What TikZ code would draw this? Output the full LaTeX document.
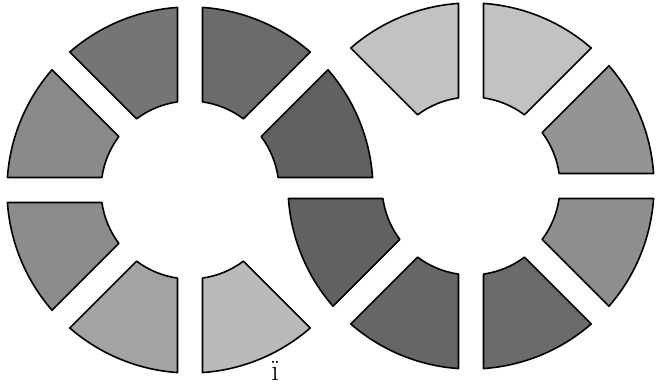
\documentclass[tikz,border=0pt]{standalone}
\usetikzlibrary{calc}
\begin{document}
\begin{tikzpicture}[seg/.style={draw=black,line width=1.6pt,line join=round}]
\useasboundingbox (0,0) rectangle (662pt,387pt);
\pgfmathsetmacro\Rout{183}
\pgfmathsetmacro\Rin{89}
\pgfmathsetmacro\ao{asin(12.5/\Rout)}
\pgfmathsetmacro\ai{asin(12.5/\Rin)}
\newcommand\ringseg[4]{%
  \pgfmathsetmacro\sa{#3+\ao}\pgfmathsetmacro\ea{#3+45-\ao}%
  \pgfmathsetmacro\sb{#3+45-\ai}\pgfmathsetmacro\eb{#3+\ai}%
  \draw[seg,fill=#4,shift={(#1pt,#2pt)}] (\sa:\Rout pt) arc[start angle=\sa,end angle=\ea,radius=\Rout pt]
    -- (\sb:\Rin pt) arc[start angle=\sb,end angle=\eb,radius=\Rin pt] -- cycle;}
% left ring
\ringseg{190}{197}{0}{black!62}
\ringseg{190}{197}{45}{black!58}
\ringseg{190}{197}{90}{black!54}
\ringseg{190}{197}{135}{black!46}
\ringseg{190}{197}{180}{black!45}
\ringseg{190}{197}{225}{black!36}
\ringseg{190}{197}{270}{black!27}
% right ring
\ringseg{471}{201}{45}{black!24}
\ringseg{471}{201}{90}{black!24}
\ringseg{471}{201}{0}{black!42}
\ringseg{471}{201}{315}{black!44}
\ringseg{471}{201}{270}{black!58}
\ringseg{471}{201}{225}{black!60}
\ringseg{471}{201}{180}{black!62}
\node[anchor=base,inner sep=0pt,font=\fontsize{30}{30}\selectfont] (lbl) at (275pt,6pt) {ï};
\end{tikzpicture}
\end{document}
